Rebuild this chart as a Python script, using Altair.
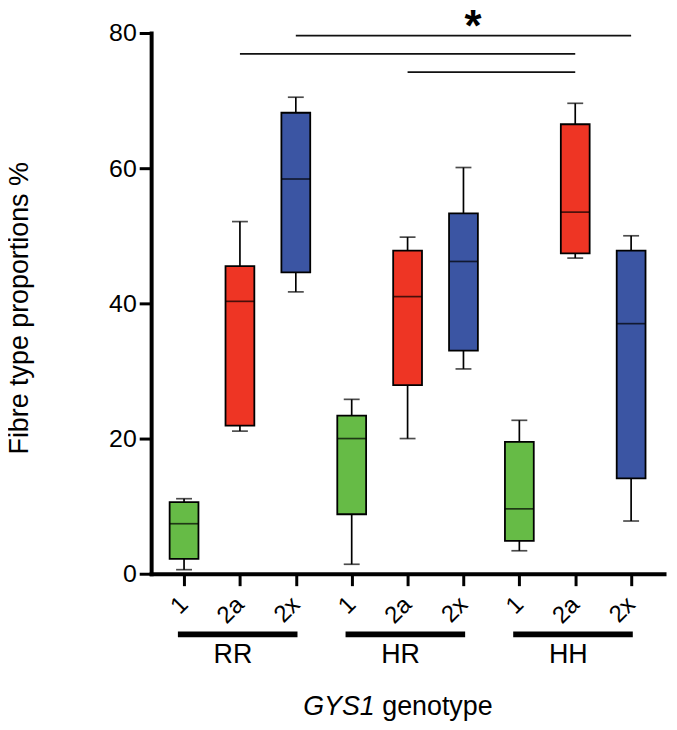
import altair as alt
import pandas as pd

# ---- data ----
genotypes = ["RR", "HR", "HH"]
fibre_types = ["1", "2a", "2x"]
type_colors = ["#66bb46", "#ee3524", "#3b55a3"]

# order: RR-1, RR-2a, RR-2x, HR-1, HR-2a, HR-2x, HH-1, HH-2a, HH-2x
whisker_low = [0.6, 21.1, 41.7, 1.4, 20.0, 30.3, 3.4, 46.7, 7.8]
q1_values = [2.2, 21.9, 44.6, 8.8, 27.9, 33.0, 4.85, 47.4, 14.1]
median_values = [7.4, 40.3, 58.4, 20.0, 41.0, 46.2, 9.6, 53.5, 37.0]
q3_values = [10.6, 45.5, 68.2, 23.4, 47.8, 53.3, 19.5, 66.5, 47.8]
whisker_high = [11.1, 52.1, 70.5, 25.8, 49.8, 60.1, 22.7, 69.6, 50.0]

# significance brackets: (from category index, to category index, height %)
sig_from = [2, 1, 4]
sig_to = [8, 7, 7]
sig_level = [79.6, 76.9, 74.2]
star_label = "*"

FONT = "Liberation Sans"

rows = []
for gi, g in enumerate(genotypes):
    for ti, t in enumerate(fibre_types):
        i = gi * 3 + ti
        rows.append(dict(idx=i, genotype=g, ftype=t, lo=whisker_low[i], q1=q1_values[i],
                         med=median_values[i], q3=q3_values[i], hi=whisker_high[i]))
box = pd.DataFrame(rows)

groups = pd.DataFrame(dict(
    genotype=genotypes,
    start=[gi * 3 - 0.11 for gi in range(len(genotypes))],
    end=[gi * 3 + 2 + 0.03 for gi in range(len(genotypes))],
    mid=[gi * 3 + 1 for gi in range(len(genotypes))],
))
sig = pd.DataFrame(dict(a=sig_from, b=sig_to, y=sig_level))
star = pd.DataFrame(dict(x=[(sig_from[0] + sig_to[0]) / 2 + 0.17], y=[78.8], t=[star_label]))

label_expr = "[" + ",".join("'%s'" % t for t in fibre_types) + "][datum.value % 3]"

xscale = alt.Scale(domain=[-0.5, 8.5], nice=False, zero=False)
yscale = alt.Scale(domain=[0, 80], nice=False)

x_axis = alt.Axis(values=list(range(9)), labelExpr=label_expr, title=None)
y_axis = alt.Axis(values=[0, 20, 40, 60, 80], title="Fibre type proportions %")

color = alt.Color("ftype:N", scale=alt.Scale(domain=fibre_types, range=type_colors), legend=None)

base = alt.Chart(box)

whiskers = base.mark_rule(color="black", strokeWidth=1.7).encode(
    x=alt.X("idx:Q", scale=xscale, axis=x_axis),
    y=alt.Y("lo:Q", scale=yscale, axis=y_axis),
    y2="hi:Q",
)
boxes = base.mark_bar(size=29, stroke="black", strokeWidth=1.8).encode(
    x=alt.X("idx:Q", scale=xscale, axis=x_axis),
    y=alt.Y("q1:Q", scale=yscale, axis=y_axis),
    y2="q3:Q",
    color=color,
)
medians = base.mark_tick(orient="horizontal", size=29, thickness=1.7, color="black").encode(
    x=alt.X("idx:Q", scale=xscale, axis=x_axis),
    y=alt.Y("med:Q", scale=yscale, axis=y_axis),
)
cap_hi = base.mark_tick(orient="horizontal", size=16, thickness=1.7, color="black").encode(
    x=alt.X("idx:Q", scale=xscale, axis=x_axis),
    y=alt.Y("hi:Q", scale=yscale, axis=y_axis),
)
cap_lo = base.mark_tick(orient="horizontal", size=16, thickness=1.7, color="black").encode(
    x=alt.X("idx:Q", scale=xscale, axis=x_axis),
    y=alt.Y("lo:Q", scale=yscale, axis=y_axis),
)

sig_lines = alt.Chart(sig).mark_rule(color="#111111", strokeWidth=1.7).encode(
    x=alt.X("a:Q", scale=xscale, axis=x_axis),
    x2="b:Q",
    y=alt.Y("y:Q", scale=yscale, axis=y_axis),
)
star_text = alt.Chart(star).mark_text(fontSize=44, fontWeight="bold", font=FONT,
                                      baseline="alphabetic", color="black").encode(
    x=alt.X("x:Q", scale=xscale, axis=x_axis),
    y=alt.Y("y:Q", scale=yscale, axis=y_axis),
    text="t:N",
)

group_bars = alt.Chart(groups).mark_rule(color="black", strokeWidth=6, strokeCap="butt").encode(
    x=alt.X("start:Q", scale=xscale, axis=x_axis),
    x2="end:Q",
    y=alt.value(605),
)
group_labels = alt.Chart(groups).mark_text(fontSize=27, font=FONT, baseline="alphabetic",
                                           dx=-7, color="black").encode(
    x=alt.X("mid:Q", scale=xscale, axis=x_axis),
    y=alt.value(634),
    text="genotype:N",
)

title_df = pd.DataFrame(dict(t=["GYS1"]))
title_df2 = pd.DataFrame(dict(t=["genotype"]))
title_a = alt.Chart(title_df).mark_text(fontSize=27, font=FONT, fontStyle="italic",
                                        align="right", baseline="alphabetic", color="black").encode(
    x=alt.value(225), y=alt.value(686), text="t:N")
title_b = alt.Chart(title_df2).mark_text(fontSize=27, font=FONT, align="left",
                                         baseline="alphabetic", color="black").encode(
    x=alt.value(232.5), y=alt.value(686), text="t:N")

chart = alt.layer(
    whiskers, boxes, medians, cap_hi, cap_lo, sig_lines, star_text,
    group_bars, group_labels, title_a, title_b,
).properties(
    width=516, height=544,
    autosize=alt.AutoSizeParams(type="none"),
    padding={"left": 144, "top": 23, "right": 5, "bottom": 147},
).configure(
    background="white",
).configure_view(
    strokeWidth=0, stroke=None,
).configure_axisX(
    grid=False, labelAngle=-45, labelAlign="right", labelBaseline="middle",
    labelPadding=15, labelFontSize=24, labelFont=FONT, labelColor="black",
    tickSize=12, tickWidth=3, tickColor="black", domainWidth=4,
    domainColor="black", domainCap="square", labelOverlap=False,
    labelFlush=False, labelBound=False,
).configure_axisY(
    grid=False, labelFontSize=25, labelFont=FONT, labelColor="black", labelPadding=3,
    tickSize=12, tickWidth=3, tickColor="black", domainWidth=4,
    domainColor="black", domainCap="square",
    titleFont=FONT, titleFontSize=27, titleFontWeight="normal", titleColor="black",
    titleAngle=-90, titleX=-124, titleY=276.5, titleBaseline="alphabetic",
    titleAlign="center",
)

chart.save("out.html", embed_options={"renderer": "svg", "actions": False})
